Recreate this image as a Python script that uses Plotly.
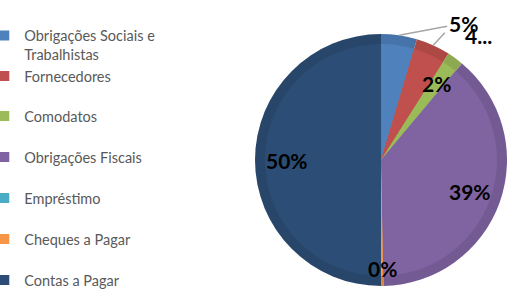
import math
import plotly.graph_objects as go

labels = ["Obrigações Sociais e Trabalhistas", "Fornecedores", "Comodatos",
          "Obrigações Fiscais", "Empréstimo", "Cheques a Pagar", "Contas a Pagar"]
legend_labels = ["Obrigações Sociais e<br>Trabalhistas", "Fornecedores", "Comodatos",
                 "Obrigações Fiscais", "Empréstimo", "Cheques a Pagar", "Contas a Pagar"]
values = [4.6, 4.4, 2.1, 38.6, 0.0, 0.3, 50.0]
data_labels = ["5%", "4...", "2%", "39%", "", "0%", "50%"]

colors = ["#4F81BD", "#C0504D", "#9BBB59", "#8064A2", "#4BACC6", "#F79646", "#2C4D75"]
dark_colors = ["#4674AA", "#AD4845", "#8CA850", "#735A93", "#439BB2", "#DE873F", "#284669"]

W, H = 507, 290
cx, cy = 381, 160
R_out, R_in = 126, 116

def dom(r):
    return dict(x=[(cx - r) / W, min(1.0, (cx + r) / W)],
                y=[1 - (cy + r) / H, 1 - (cy - r) / H])

label_font = dict(family="Lato", size=21, color="black", weight="bold")

fig = go.Figure()
fig.add_trace(go.Pie(labels=labels, values=values, sort=False, direction="clockwise",
                     rotation=0, marker=dict(colors=dark_colors, line=dict(width=0)),
                     textinfo="none", showlegend=False, hoverinfo="skip", domain=dom(R_out)))
fig.add_trace(go.Pie(labels=labels, values=values, sort=False, direction="clockwise",
                     rotation=0, marker=dict(colors=colors, line=dict(width=0)),
                     textinfo="none", hovertemplate="%{label}: %{percent:.0%}<extra></extra>",
                     showlegend=False, domain=dom(R_in)))

# data labels placed along each slice's mid-angle (computed from the values)
total = sum(values)
cum = 0.0
for i, v in enumerate(values):
    ang = math.radians(360 * (cum + v / 2) / total)
    cum += v
    if not data_labels[i]:
        continue
    def pt(frac):
        return (cx + R_out * frac * math.sin(ang), cy - R_out * frac * math.cos(ang))
    common = dict(xref="paper", yref="paper", xanchor="center", yanchor="middle")
    if i == 0:
        px, py = pt(1.0)
        fig.add_annotation(x=px / W, y=1 - py / H, text=data_labels[i], font=label_font,
                           showarrow=True, arrowhead=0, arrowwidth=1.5,
                           arrowcolor="#A6A6A6", ax=64, ay=-12, standoff=0, **common)
    elif i == 1:
        px, py = pt(1.0)
        fig.add_annotation(x=px / W, y=1 - py / H, text="", showarrow=True, arrowhead=0,
                           arrowwidth=1.5, arrowcolor="#A6A6A6", ax=13, ay=-14,
                           standoff=0, **common)
        fig.add_annotation(x=px / W, y=1 - py / H, text=data_labels[i], font=label_font,
                           showarrow=False, xshift=45, yshift=10, **common)
    else:
        frac = 0.86 if v / total < 0.01 else 0.75
        px, py = pt(frac)
        fig.add_annotation(x=px / W, y=1 - py / H, text=data_labels[i], font=label_font,
                           showarrow=False, **common)

legend_y = [45, 76, 116, 157, 198, 239, 280]
for i, (lab, c) in enumerate(zip(legend_labels, colors)):
    key = "legend" if i == 0 else f"legend{i+1}"
    fig.add_trace(go.Scatter(x=[None], y=[None], mode="markers", name=lab,
                             marker=dict(symbol="square", size=10, color=c),
                             showlegend=True, legend=key, hoverinfo="skip"))
    fig.update_layout({key: dict(x=-0.031, xanchor="left", y=1 - legend_y[i] / H,
                                 yanchor="middle", bgcolor="rgba(0,0,0,0)", borderwidth=0,
                                 valign="top",
                                 font=dict(family="Lato", size=14.5, color="#595959"),
                                 itemwidth=30, tracegroupgap=0)})

fig.update_layout(width=W, height=H, margin=dict(l=0, r=0, t=0, b=0, autoexpand=False),
                  paper_bgcolor="white", plot_bgcolor="white",
                  xaxis=dict(visible=False), yaxis=dict(visible=False))
fig.write_html("out.html", config={"displayModeBar": False},
               post_script="document.body.style.margin='0';document.body.style.overflow='hidden';")
